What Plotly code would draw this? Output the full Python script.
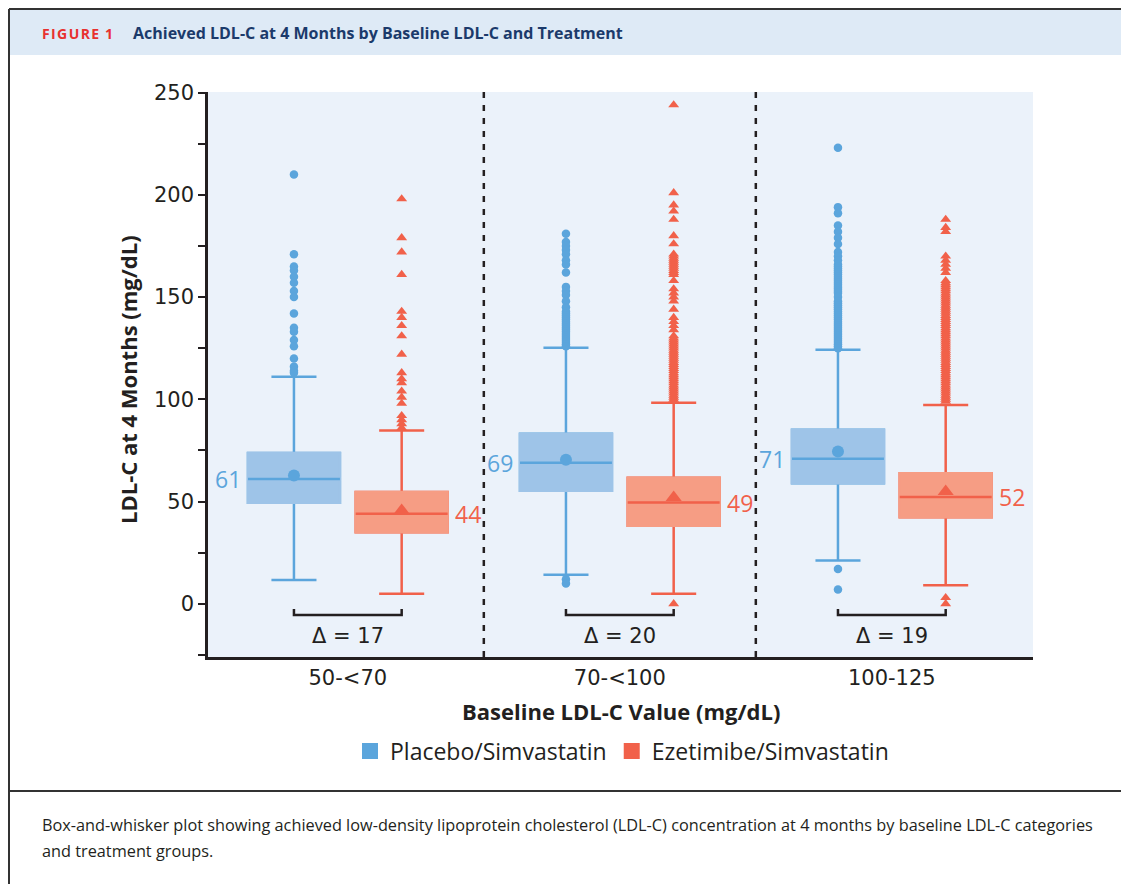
import plotly.graph_objects as go

# ---------------- data ----------------
categories = ["50-<70", "70-<100", "100-125"]
series_names = ["Placebo/Simvastatin", "Ezetimibe/Simvastatin"]

pla_q1 = [49.4, 55.3, 59.0]
pla_median = [61.0, 69.0, 71.0]
pla_q3 = [73.8, 83.2, 85.1]
pla_lower = [11.7, 14.2, 21.2]
pla_upper = [111.0, 125.2, 124.3]
pla_mean = [62.8, 70.5, 74.5]

eze_q1 = [35.0, 38.2, 42.4]
eze_median = [44.0, 49.5, 52.2]
eze_q3 = [54.7, 61.6, 63.9]
eze_lower = [4.9, 4.9, 9.1]
eze_upper = [84.8, 98.3, 97.2]
eze_mean = [45.7, 52.0, 54.9]

pla_median_labels = ["61", "69", "71"]
eze_median_labels = ["44", "49", "52"]
delta_labels = ["17", "20", "19"]

pla_outliers_1 = [210, 171, 165, 163, 160, 157, 153, 150, 142, 135, 133, 129, 126, 120, 116, 114, 113]
pla_outliers_2 = [181, 177, 175, 173, 171, 168, 166, 162, 155, 153, 151, 148, 145, 143, 142, 141,
                  140, 139, 138, 137, 136, 135, 134, 133, 132, 131, 130, 129, 128, 127, 126, 12, 10]
pla_outliers_3 = [223, 194, 191, 185, 182, 179, 176, 172, 170, 168, 166, 165, 164, 163, 162, 161,
                  160, 159, 158, 157, 156, 155, 154, 153, 152, 150, 148, 147, 146, 145, 144, 143,
                  142, 141, 140, 139, 138, 137, 136, 135, 134, 133, 132, 131, 130, 129, 128, 127,
                  126, 125, 17, 7]

eze_outliers_1 = [198, 179, 172, 161, 143, 140, 136, 131, 122, 113, 110, 108, 104, 101, 98, 92, 90, 88, 86]
eze_outliers_2 = [244, 201, 195, 192, 188, 180, 176, 171, 170, 169, 168, 167, 166, 165, 164, 163,
                  162, 161, 158, 154, 152, 150, 148, 144, 140, 138, 136, 134, 131, 130, 129, 128,
                  127, 126, 125, 124, 123, 122, 121, 120, 119, 118, 117, 116, 115, 114, 113, 112,
                  111, 110, 109, 108, 107, 106, 105, 104, 103, 102, 101, 100, 99, 0]
eze_outliers_3 = [188, 184, 182, 170, 168, 166, 164, 162, 158, 157, 156, 155, 154, 153, 152, 151,
                  150, 149, 148, 147, 146, 145, 144, 143, 142, 141, 140, 139, 138, 137, 136, 135,
                  134, 133, 132, 131, 130, 129, 128, 127, 126, 125, 124, 123, 122, 121, 120, 119,
                  118, 117, 116, 115, 114, 113, 112, 111, 110, 109, 108, 107, 106, 105, 104, 103,
                  102, 101, 100, 99, 3, 0]

y_ticks = [0, 50, 100, 150, 200, 250]

# ---------------- style ----------------
PLA_DARK = "#5BA5DC"
PLA_LIGHT = "#9EC4E8"
EZE_DARK = "#F1614A"
EZE_LIGHT = "#F69D84"
TXT = "#231F20"
FONT = "Open Sans"
AXFONT = "DejaVu Sans"

OFFSET = 0.198
BOX_W = 0.338
WHISKER_W = 0.49

pla_x = [i - OFFSET for i in range(len(categories))]
eze_x = [i + OFFSET for i in range(len(categories))]

fig = go.Figure()

def add_group(xs, q1, med, q3, lo, hi, dark, light):
    for i in range(len(xs)):
        fig.add_trace(go.Box(x=[xs[i]], q1=[q1[i]], median=[med[i]], q3=[q3[i]],
                             lowerfence=[lo[i]], upperfence=[hi[i]],
                             width=BOX_W, whiskerwidth=WHISKER_W, boxpoints=False,
                             line=dict(color=dark, width=2.5), fillcolor=light,
                             showlegend=False, hoverinfo="skip"))
        # cover box outline with fill colour
        fig.add_trace(go.Box(x=[xs[i]], q1=[q1[i]], median=[med[i]], q3=[q3[i]],
                             lowerfence=[q1[i]], upperfence=[q3[i]],
                             width=BOX_W, whiskerwidth=WHISKER_W, boxpoints=False,
                             line=dict(color=light, width=2.5), fillcolor=light,
                             showlegend=False, hoverinfo="skip"))

add_group(pla_x, pla_q1, pla_median, pla_q3, pla_lower, pla_upper, PLA_DARK, PLA_LIGHT)
add_group(eze_x, eze_q1, eze_median, eze_q3, eze_lower, eze_upper, EZE_DARK, EZE_LIGHT)

# median lines
for xs, med, dark in [(pla_x, pla_median, PLA_DARK), (eze_x, eze_median, EZE_DARK)]:
    for i in range(len(xs)):
        fig.add_trace(go.Scatter(x=[xs[i] - BOX_W / 2, xs[i] + BOX_W / 2], y=[med[i], med[i]],
                                 mode="lines", line=dict(color=dark, width=2.5),
                                 showlegend=False, hoverinfo="skip"))

# outliers
pla_out = [pla_outliers_1, pla_outliers_2, pla_outliers_3]
eze_out = [eze_outliers_1, eze_outliers_2, eze_outliers_3]
for i in range(len(categories)):
    fig.add_trace(go.Scatter(x=[pla_x[i]] * len(pla_out[i]), y=pla_out[i], mode="markers",
                             marker=dict(symbol="circle", size=8.5, color=PLA_DARK),
                             showlegend=False, hoverinfo="skip"))
    fig.add_trace(go.Scatter(x=[eze_x[i]] * len(eze_out[i]), y=eze_out[i], mode="markers",
                             marker=dict(symbol="triangle-up", size=9.5, color=EZE_DARK),
                             showlegend=False, hoverinfo="skip"))

# means
fig.add_trace(go.Scatter(x=pla_x, y=pla_mean, mode="markers",
                         marker=dict(symbol="circle", size=12, color=PLA_DARK),
                         showlegend=False, hoverinfo="skip"))
fig.add_trace(go.Scatter(x=eze_x, y=eze_mean, mode="markers",
                         marker=dict(symbol="triangle-up", size=14, color=EZE_DARK),
                         showlegend=False, hoverinfo="skip"))

# delta brackets
for i in range(len(categories)):
    fig.add_trace(go.Scatter(x=[pla_x[i], pla_x[i], eze_x[i], eze_x[i]], y=[-2.5, -5.5, -5.5, -2.5],
                             mode="lines", line=dict(color=TXT, width=2.5),
                             showlegend=False, hoverinfo="skip"))

# legend entries
for name, col in zip(series_names, [PLA_DARK, EZE_DARK]):
    fig.add_trace(go.Scatter(x=[None], y=[None], mode="markers", name=name,
                             marker=dict(symbol="square", size=18, color=col)))

# ---------------- layout geometry (reference pixel coords, page has 8px body margin) ----------------
OFF = 8
W, H = 1121, 876
L = 208 - OFF
T = 92 - OFF
R = W - (1033 - OFF)
B = H - (657 - OFF)
PW, PH = W - L - R, H - T - B

def px(xp):
    return (xp - OFF - L) / PW

def py(yp):
    return (H - B - (yp - OFF)) / PH

ann = []
for i in range(len(categories)):
    ann.append(dict(x=pla_x[i] - BOX_W / 2, y=pla_median[i], xref="x", yref="y",
                    text=pla_median_labels[i], showarrow=False, xanchor="right", yanchor="middle",
                    xshift=-5, font=dict(family=FONT, size=23, color=PLA_DARK)))
    ann.append(dict(x=eze_x[i] + BOX_W / 2, y=eze_median[i], xref="x", yref="y",
                    text=eze_median_labels[i], showarrow=False, xanchor="left", yanchor="middle",
                    xshift=5, font=dict(family=FONT, size=23, color=EZE_DARK)))
    ann.append(dict(x=i, y=-15.5, xref="x", yref="y", text="\u0394 = " + delta_labels[i],
                    showarrow=False, xanchor="center", yanchor="middle",
                    font=dict(family=AXFONT, size=21, color=TXT)))

ann.append(dict(x=px(621), y=py(711), xref="paper", yref="paper",
                text="<b>Baseline LDL-C Value (mg/dL)</b>", showarrow=False,
                xanchor="center", yanchor="middle", font=dict(family=FONT, size=22, color=TXT)))
ann.append(dict(x=px(128), y=py(380), xref="paper", yref="paper", textangle=-90,
                text="<b>LDL-C at 4 Months (mg/dL)</b>", showarrow=False,
                xanchor="center", yanchor="middle", font=dict(family=FONT, size=22, color=TXT)))
ann.append(dict(x=px(40), y=py(33), xref="paper", yref="paper",
                text="<b>F\u200aI\u200aG\u200aU\u200aR\u200aE\u2009 1</b>",
                showarrow=False, xanchor="left", yanchor="middle",
                font=dict(family=FONT, size=14, color="#E8312F")))
ann.append(dict(x=px(131), y=py(33), xref="paper", yref="paper",
                text="<b>Achieved LDL-C at 4 Months by Baseline LDL-C and Treatment</b>",
                showarrow=False, xanchor="left", yanchor="middle",
                font=dict(family=FONT, size=16, color="#1B3A6B")))
ann.append(dict(x=px(40), y=py(825), xref="paper", yref="paper",
                text="Box-and-whisker plot showing achieved low-density lipoprotein cholesterol (LDL-C) "
                     "concentration at 4 months by baseline LDL-C categories",
                showarrow=False, xanchor="left", yanchor="middle",
                font=dict(family=FONT, size=16.3, color=TXT)))
ann.append(dict(x=px(40), y=py(851), xref="paper", yref="paper",
                text="and treatment groups.", showarrow=False, xanchor="left", yanchor="middle",
                font=dict(family=FONT, size=16.3, color=TXT)))

shapes = [
    dict(type="rect", xref="paper", yref="paper", x0=px(9), x1=px(1140), y0=py(55), y1=py(9),
         fillcolor="#DEEAF6", line=dict(width=0), layer="below"),
    dict(type="line", xref="paper", yref="paper", x0=px(9), x1=px(1140), y0=py(9), y1=py(9),
         line=dict(color="#333333", width=2)),
    dict(type="line", xref="paper", yref="paper", x0=px(9), x1=px(9), y0=py(9), y1=py(900),
         line=dict(color="#333333", width=2)),
    dict(type="line", xref="paper", yref="paper", x0=px(9), x1=px(1140), y0=py(791), y1=py(791),
         line=dict(color="#333333", width=2)),
]
for xv in [0.5, 1.5]:
    shapes.append(dict(type="line", xref="x", yref="paper", x0=xv, x1=xv, y0=0, y1=1,
                       line=dict(color=TXT, width=2.5, dash="6px,7px")))

fig.update_layout(
    width=W, height=H,
    margin=dict(l=L, r=R, t=T, b=B),
    paper_bgcolor="white", plot_bgcolor="#EBF2FA",
    boxmode="overlay",
    showlegend=True,
    legend=dict(orientation="h", x=px(622), y=py(751), xanchor="center", yanchor="middle",
                font=dict(family=FONT, size=23, color=TXT), bgcolor="rgba(0,0,0,0)"),
    xaxis=dict(range=[-0.514, 2.519], tickmode="array", tickvals=[0, 1, 2], ticktext=categories,
               showgrid=False, zeroline=False, showline=True, linecolor=TXT, linewidth=2.5,
               ticks="", tickfont=dict(family=AXFONT, size=21, color=TXT)),
    yaxis=dict(range=[-26, 250.3], tickmode="array", tickvals=y_ticks,
               showgrid=False, zeroline=False, showline=True, linecolor=TXT, linewidth=2.5,
               ticks="outside", ticklen=7, tickwidth=2, tickcolor=TXT,
               minor=dict(dtick=25, tick0=0, ticks="outside", ticklen=7, tickwidth=2, tickcolor=TXT),
               tickfont=dict(family=AXFONT, size=21, color=TXT)),
    annotations=ann,
    shapes=shapes,
)

fig.write_html("out.html")
